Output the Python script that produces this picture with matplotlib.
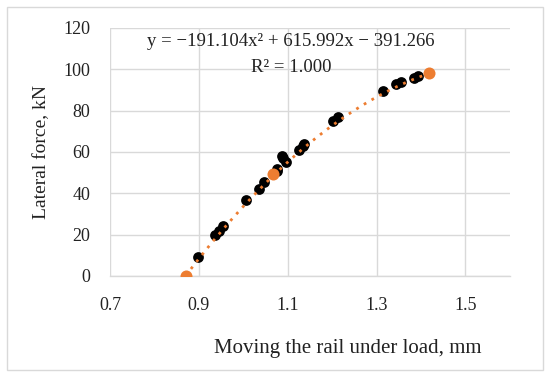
import numpy as np
import matplotlib
matplotlib.use("Agg")
import matplotlib.pyplot as plt
from matplotlib.patches import Rectangle

# measured points (black)
x_meas = [0.897, 0.937, 0.946, 0.955, 1.007, 1.035, 1.046, 1.075, 1.077, 1.087, 1.089, 1.096,
          1.126, 1.134, 1.136, 1.203, 1.214, 1.315, 1.344, 1.354, 1.384, 1.393]
y_meas = [9.2, 19.8, 21.9, 24.2, 36.8, 42.1, 45.6, 50.8, 51.8, 58.2, 57.0, 55.3,
          61.0, 62.9, 63.9, 75.1, 76.8, 89.6, 92.9, 93.7, 95.8, 96.8]
# highlighted points (orange)
x_key = [0.870, 1.067, 1.418]
y_key = [0.0, 49.3, 98.3]
# trendline coefficients
coef = [-191.104, 615.992, -391.266]

xticks = [0.7, 0.9, 1.1, 1.3, 1.5]
yticks = [0, 20, 40, 60, 80, 100, 120]

plt.rcParams['font.family'] = ['Liberation Serif', 'DejaVu Serif']
orange = '#ED7D31'
grid = '#D9D9D9'
tc = '#222222'

fig = plt.figure(figsize=(5.5, 3.77), dpi=100)
ax = fig.add_axes([0.2, 0.268, 0.727, 0.658])

ax.scatter(x_meas, y_meas, s=60, color='black', zorder=3, linewidths=0)
ax.scatter(x_key, y_key, s=75, color=orange, zorder=3, linewidths=0)

xs = np.linspace(min(x_key), max(x_key), 300)
ax.plot(xs, np.polyval(coef, xs), color=orange, linestyle=(0, (1, 2.2)),
        linewidth=2, zorder=4)

ax.set_xlim(0.7, 1.6)
ax.set_ylim(0, 120)
ax.set_xticks(xticks)
ax.set_yticks(yticks)
ax.grid(True, color=grid, linewidth=1)
ax.set_axisbelow(True)
for s in ['top', 'right', 'left']:
    ax.spines[s].set_visible(False)
ax.spines['bottom'].set_color(grid)
ax.spines['bottom'].set_linewidth(1)
ax.tick_params(length=0, labelsize=13, colors=tc)
ax.tick_params(axis='x', pad=15)
ax.tick_params(axis='y', pad=14)
ax.set_xlabel('Moving the rail under load, mm', fontsize=15, color=tc)
ax.xaxis.set_label_coords(0.595, -0.255)
ax.set_ylabel('Lateral force, kN', fontsize=14, labelpad=10, color=tc)

ax.text(1.106, 113.5, 'y = \u2212191.104x\u00b2 + 615.992x \u2212 391.266', ha='center', va='center',
        fontsize=13.5, color=tc)
ax.text(1.108, 101.0, 'R\u00b2 = 1.000', ha='center', va='center', fontsize=13.5, color=tc)

fig.patches.append(Rectangle((7/550, 7/377), 536/550, 363/377, transform=fig.transFigure,
                             fill=False, edgecolor=grid, linewidth=1))

fig.savefig('out.png', dpi=100)
